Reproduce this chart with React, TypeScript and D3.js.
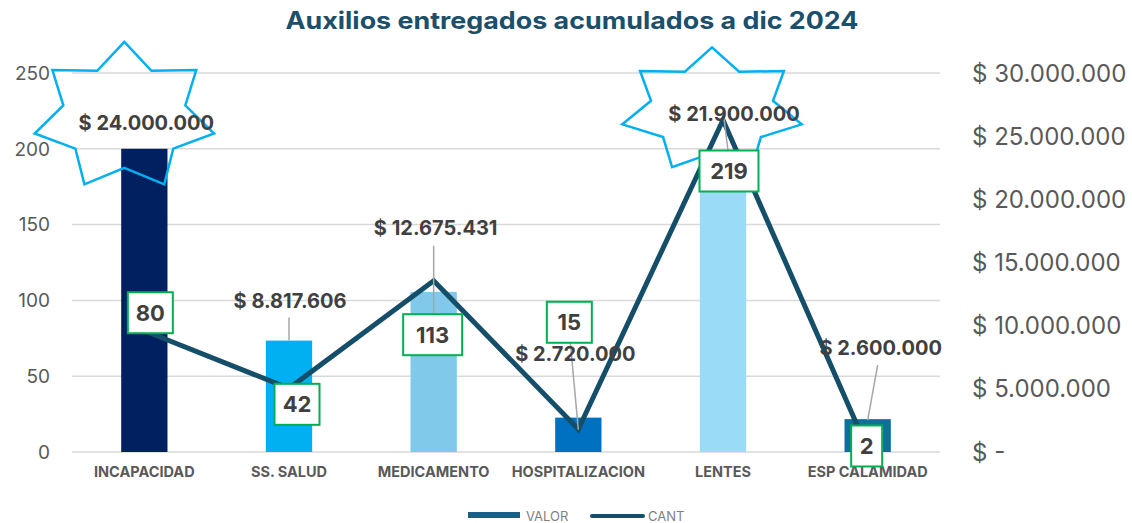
import * as d3 from 'd3';

const categories = ['INCAPACIDAD', 'SS. SALUD', 'MEDICAMENTO', 'HOSPITALIZACION', 'LENTES', 'ESP CALAMIDAD'];
const valor = [24000000, 8817606, 12675431, 2720000, 21900000, 2600000];
const cant = [80, 42, 113, 15, 219, 2];
const leftTicks = [0, 50, 100, 150, 200, 250];
const rightTicks = [0, 5000000, 10000000, 15000000, 20000000, 25000000, 30000000];
const seriesNames = ['VALOR', 'CANT'];
const title = 'Auxilios entregados acumulados a dic 2024';

// label placement, relative to the bar top / line point
const barColors = ['#002060', '#00B0F0', '#80C9EA', '#0070C0', '#9ADCF8', '#0E6F9B'];
const valLabelOff = [[2, -26], [1, -40], [2, -64], [-3, -64], [11, -62], [13, -71]];
const leaderOff = [null, [[0, -23], [0, 0]], [[0, -46], [0, 21]], [[-8, -75], [0, 12]], [[1, -57], [5, -25]], [[10, -54], [0, 1]]];
const starOff = [[-20, -32, 92, 75], null, null, null, [-11, -65, 92, 63]];
const cantBoxOff = [[6, -18], [8, 16], [-1, 54], [-9, -107], [6, 51], [-1, -3]];

const W = 1132;
const H = 523;
const margin = { left: 72, right: 192, top: 73, bottom: 71 };

const fmtMoney = (v: number) => (v === 0 ? '$ -' : '$ ' + d3.format(',')(v).replace(/,/g, '.'));

function starPath(cx: number, cy: number, rx: number, ry: number) {
  const pts: [number, number][] = [];
  for (let i = 0; i < 14; i++) {
    const a = (i * Math.PI) / 7;
    const r = i % 2 === 0 ? 1 : 0.68;
    pts.push([cx + rx * r * Math.sin(a), cy - ry * r * Math.cos(a)]);
  }
  return d3.line()(pts) + 'Z';
}

export default function App() {
  const x = d3.scaleBand().domain(categories).range([margin.left, W - margin.right]).paddingInner(0.68).paddingOuter(0.34);
  const yL = d3.scaleLinear().domain([0, 250]).range([H - margin.bottom, margin.top]);
  const yR = d3.scaleLinear().domain([0, 30000000]).range([H - margin.bottom, margin.top]);
  const cx = (i: number) => (x(categories[i]) as number) + x.bandwidth() / 2;

  const linePath = d3.line<number>()
    .x((_, i) => cx(i))
    .y((d) => yL(d))(cant) as string;

  const font = 'Inter, "DejaVu Sans", sans-serif';

  return (
    <svg width={W} height={H} style={{ position: 'absolute', left: 0, top: 0, background: '#fff' }} fontFamily={font}>
      <text x={572} y={29} textAnchor="middle" fontSize={24} fontWeight={700} fill="#1B4F6B" textLength={573} lengthAdjust="spacingAndGlyphs">{title}</text>

      {leftTicks.map((t) => (
        <g key={'g' + t}>
          <line x1={margin.left} x2={W - margin.right} y1={yL(t)} y2={yL(t)} stroke="#D9D9D9" strokeWidth={1.5} />
          <text x={50} y={yL(t)} dy="0.36em" textAnchor="end" fontSize={19} fill="#595959">{t}</text>
        </g>
      ))}
      {rightTicks.map((t) => (
        <text key={'r' + t} x={972} y={yR(t)} dy="0.36em" fontSize={24} fill="#595959">{fmtMoney(t)}</text>
      ))}

      {valor.map((v, i) => (
        <rect key={'b' + i} x={x(categories[i])} y={yR(v)} width={x.bandwidth()} height={yR(0) - yR(v)} fill={barColors[i]} />
      ))}

      {categories.map((c, i) => (
        <text key={'c' + i} x={cx(i)} y={477} textAnchor="middle" fontSize={14.5} fontWeight={700} fill="#595959">{c}</text>
      ))}

      <path d={linePath} fill="none" stroke="#144E69" strokeWidth={5} strokeLinejoin="miter" />

      {valor.map((v, i) => {
        const bx = cx(i);
        const by = yR(v);
        const ld = leaderOff[i];
        const st = starOff[i];
        return (
          <g key={'v' + i}>
            {ld && (
              <line x1={bx + ld[0][0]} y1={by + ld[0][1]} x2={bx + ld[1][0]} y2={by + ld[1][1]} stroke="#A6A6A6" strokeWidth={1.5} />
            )}
            {st && <path d={starPath(bx + st[0], by + st[1], st[2], st[3])} fill="none" stroke="#00B0F0" strokeWidth={2.5} />}
            <text x={bx + valLabelOff[i][0]} y={by + valLabelOff[i][1]} dy="0.36em" textAnchor="middle" fontSize={20} fontWeight={700} fill="#404040">
              {fmtMoney(v)}
            </text>
          </g>
        );
      })}

      {cant.map((c, i) => {
        const px = cx(i) + cantBoxOff[i][0];
        const py = yL(c) + cantBoxOff[i][1];
        const bw = String(c).length * 14 + 17;
        return (
          <g key={'n' + i}>
            <rect x={px - bw / 2} y={py - 20.5} width={bw} height={41} fill="#fff" stroke="#00B050" strokeWidth={2} />
            <text x={px} y={py} dy="0.36em" textAnchor="middle" fontSize={22} fontWeight={700} fill="#404040">{c}</text>
          </g>
        );
      })}

      <g>
        <rect x={468} y={512} width={52} height={6} fill="#1B5F82" />
        <text x={526} y={516} dy="0.36em" fontSize={13} fill="#808080">{seriesNames[0]}</text>
        <line x1={592} x2={643} y1={516} y2={516} stroke="#144E69" strokeWidth={4} strokeLinecap="round" />
        <text x={648} y={516} dy="0.36em" fontSize={13} fill="#808080">{seriesNames[1]}</text>
      </g>
    </svg>
  );
}
